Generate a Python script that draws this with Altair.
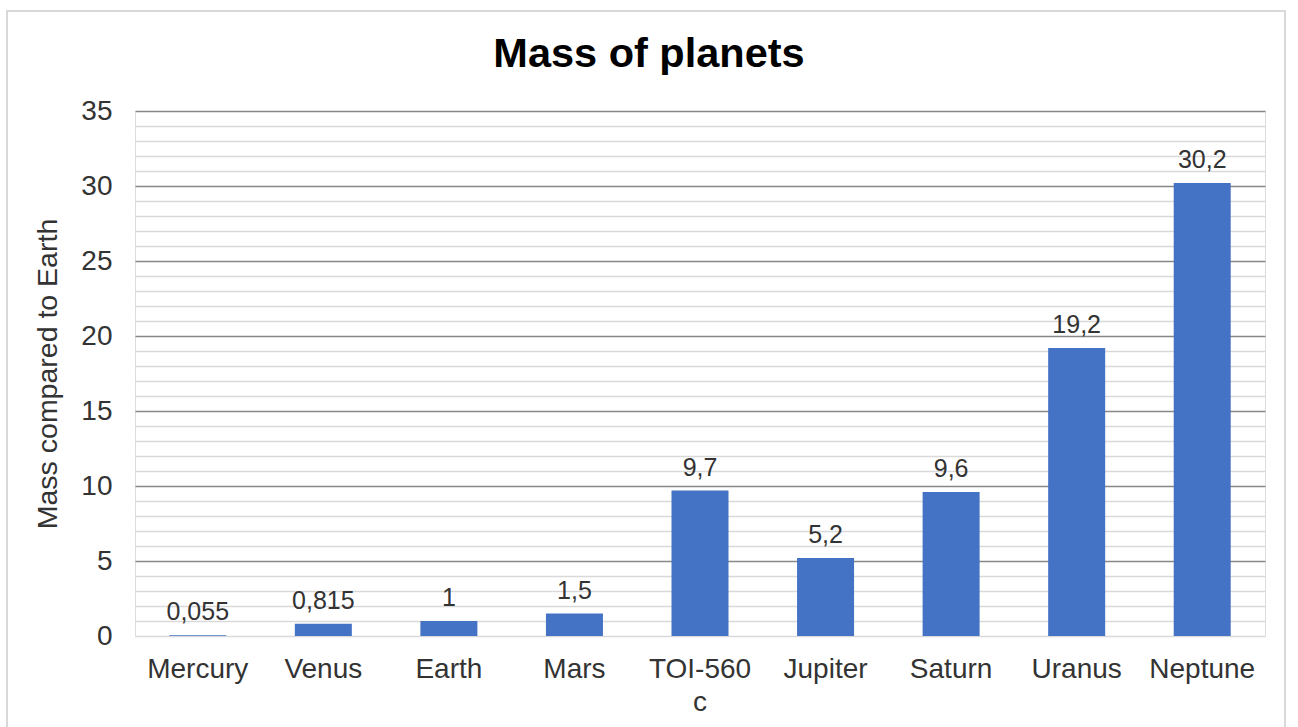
import altair as alt
import pandas as pd

# Planet masses relative to Earth
planets = ["Mercury", "Venus", "Earth", "Mars", "TOI-560 c", "Jupiter", "Saturn", "Uranus", "Neptune"]
masses = [0.055, 0.815, 1, 1.5, 9.7, 5.2, 9.6, 19.2, 30.2]

df = pd.DataFrame({"planet": planets, "mass": masses})
# Decimal comma for the value labels
df["label"] = [format(v, "g").replace(".", ",") for v in masses]

FONT = "Liberation Sans"
TEXT = "#333333"

x_enc = alt.X(
    "planet:N",
    sort=planets,
    title=None,
    scale=alt.Scale(paddingInner=0.546, paddingOuter=0.273),
    axis=alt.Axis(
        labelAngle=0,
        labelFont=FONT,
        labelFontSize=28,
        labelColor=TEXT,
        labelPadding=19,
        labelLineHeight=33,
        labelExpr="length(datum.label) > 8 ? split(datum.label, ' ') : datum.label",
        ticks=False,
        tickSize=0,
        domain=False,
        grid=False,
    ),
)

y_enc = alt.Y(
    "mass:Q",
    title="Mass compared to Earth",
    scale=alt.Scale(domain=[0, 35], nice=False),
    axis=alt.Axis(
        values=list(range(0, 36)),
        tickCount=40,
        labelOverlap=False,
        labelExpr="datum.value % 5 === 0 ? datum.label : ''",
        labelFont=FONT,
        labelFontSize=28,
        labelColor=TEXT,
        labelPadding=23,
        ticks=False,
        tickSize=0,
        domain=False,
        grid=True,
        gridColor={
            "condition": {"test": "datum.value % 5 === 0 && datum.value > 0", "value": "#878787"},
            "value": "#d9d9d9",
        },
        gridWidth=1.4,
        titleFont=FONT,
        titleFontSize=28.5,
        titleFontWeight="normal",
        titleColor=TEXT,
        titlePadding=18,
    ),
)

base = alt.Chart(df)

bars = base.mark_bar(color="#4472C4").encode(x=x_enc, y=y_enc)

labels = base.mark_text(
    font=FONT, fontSize=25, color=TEXT, baseline="alphabetic", dy=-15
).encode(x=alt.X("planet:N", sort=planets), y="mass:Q", text="label:N")

# Light outline around the whole chart
frame = alt.Chart(pd.DataFrame({"k": [0]})).mark_rect(
    fillOpacity=0, stroke="#d9d9d9", strokeWidth=2, clip=False
).encode(
    x=alt.value(-128), x2=alt.value(1150), y=alt.value(-100), y2=alt.value(640)
)

chart = (
    alt.layer(frame, bars, labels)
    .properties(
        width=1130,
        height=525,
        autosize=alt.AutoSizeParams(type="none"),
        padding={"left": 135, "top": 111, "right": 33, "bottom": 91},
        title=alt.TitleParams(
            "Mass of planets",
            font=FONT,
            fontSize=41.5,
            fontWeight="bold",
            color="black",
            anchor="middle",
            frame="group",
            baseline="alphabetic",
            offset=-98,
            dx=-51,
        ),
    )
    .configure_view(strokeWidth=0, stroke="transparent")
    .configure(background="white")
)

chart.save("out.html", embed_options={"renderer": "svg", "actions": False})
